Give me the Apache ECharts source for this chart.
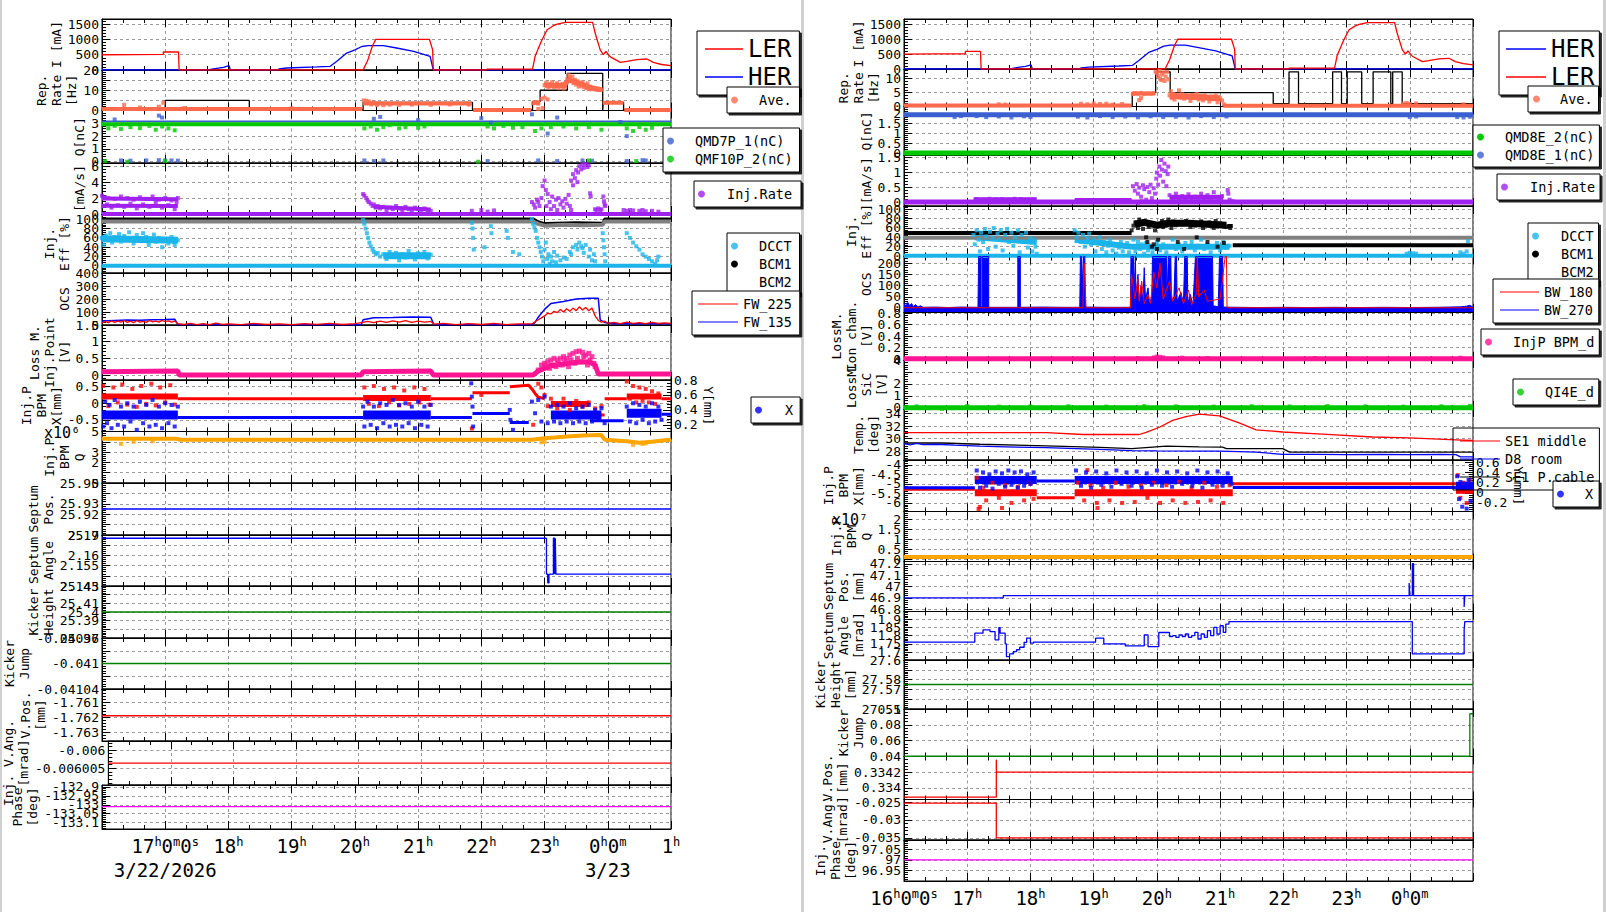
<!DOCTYPE html>
<html><head><meta charset="utf-8"><title>Injection monitor</title>
<script src="https://cdn.jsdelivr.net/npm/echarts@6.0.0/dist/echarts.min.js"></script>
<style>html,body{margin:0;padding:0;background:#fff;}#chart{width:1606px;height:912px;}</style>
</head><body><div id="chart"></div>
<script>
// ================= DATA =================
// time axis (hours since 0:00 of 3/22/2026)
const hourTicks = [16,17,18,19,20,21,22,23,24,25];
const leftHourLabels = ['', '17h0m0s', '18h', '19h', '20h', '21h', '22h', '23h', '0h0m', '1h'];
const leftDateLabels = ['', '3/22/2026', '', '', '', '', '', '', '3/23', ''];
const rightHourLabels = ['16h0m0s', '17h', '18h', '19h', '20h', '21h', '22h', '23h', '0h0m', ''];

// beam currents [mA] (same in both panels)
const lerCurrent = [[16.0,500],[16.5,505],[16.97,510],[16.97,590],[17.21,590],[17.22,0],[20.13,0],[20.2,300],[20.28,800],[20.33,1000],[21.18,1000],[21.23,660],[21.24,0],[22.08,0],[22.09,30],[22.81,30],[22.85,445],[22.9,700],[22.96,990],[23.04,1320],[23.14,1450],[23.2,1500],[23.33,1560],[23.76,1560],[23.8,1210],[23.88,660],[23.93,500],[23.97,610],[24.04,430],[24.2,250],[24.3,280],[24.46,340],[24.62,360],[24.72,250],[24.85,180],[25.0,140]];
const herCurrent = [[16.0,0],[17.68,0],[17.76,40],[17.92,85],[18.01,140],[18.03,0],[18.79,0],[18.8,40],[18.92,65],[19.4,100],[19.61,120],[19.71,280],[19.87,555],[20.0,660],[20.11,770],[20.21,800],[20.45,800],[20.66,720],[20.93,610],[21.19,445],[21.24,0],[25.0,0]];

// ---- left panel (LER injection) ----
const repRateL = [[16.0,0.5],[17.0,5],[18.33,0.5],[20.13,4],[21.86,0.3],[22.81,4.5],[22.93,10],[23.36,18.3],[23.92,0.3],[23.93,4],[24.25,0.3],[25.0,0.3]];
const aveBandL = [[16.0,0.8],[20.12,0.8],null,[20.13,3.4],[21.85,3.4],null,[21.87,0.2],[22.79,0.2],null,[22.81,3.8],[22.93,3.8],null,[23.92,3.8],[24.25,3.8],null,[24.26,0.2],[25.0,0.2]];
const aveCloudBandL = [[23.0,12.5],[23.3,12.2],[23.38,15.0],[23.55,13.5],[23.7,11.5],[23.9,10.3]];
const aveDotsL = [[16.35,2.8],[16.6,1.5],[16.9,1.9],[16.97,3.8],[17.3,1.2],[19.0,1.1],[20.14,5.0],[20.18,4.8],[20.22,4.5],[20.26,3.0],[20.3,4.0],[20.35,2.7],[20.45,2.6],[20.55,2.9],[20.7,2.8],[20.9,2.9],[21.2,2.8],[21.5,3.0],[21.8,2.9],[22.82,3.6],[22.86,4.2],[22.9,3.4],[22.95,5.8],[23.0,6.3],[23.05,5.5],[22.97,1.2],[22.9,0.8],[23.0,12.5],[23.03,13.8],[23.06,11.2],[23.08,13.0],[23.1,12.2],[23.12,14.0],[23.15,11.5],[23.17,12.8],[23.2,13.5],[23.22,11.0],[23.25,12.4],[23.28,13.2],[23.3,10.8],[23.33,12.0],[23.36,15.5],[23.38,17.5],[23.4,16.2],[23.42,14.8],[23.44,16.8],[23.46,13.5],[23.48,15.2],[23.5,12.8],[23.52,14.5],[23.54,11.8],[23.56,13.2],[23.58,12.2],[23.6,14.0],[23.62,11.5],[23.64,12.6],[23.66,11.0],[23.68,13.4],[23.7,10.5],[23.72,11.8],[23.75,10.5],[23.78,10.8],[23.82,10.2],[23.85,10.4],[23.88,10.2],[23.9,10.3]];

const qmf10BandL = [[16.0,2.92],[25.0,2.92]];
const qmd7BandL = [[16.0,3.15],[25.0,3.15]];
const qmf10DotsL = [[16.1,2.6],[16.2,2.8],[16.3,2.55],[16.45,2.7],[16.6,2.62],[16.75,2.8],[16.85,2.5],[16.95,2.75],[17.05,2.6],[17.15,2.45],[20.15,2.6],[20.25,2.75],[20.35,2.5],[20.45,2.7],[20.55,2.85],[20.7,2.6],[20.8,2.7],[21.0,2.65],[21.1,2.75],[22.1,2.75],[22.2,2.6],[22.35,2.8],[22.5,2.65],[22.65,2.7],[22.85,2.4],[22.95,2.6],[23.1,2.7],[23.3,2.75],[23.5,2.6],[23.7,2.7],[23.9,2.5],[24.3,2.6],[24.4,2.4],[24.5,2.7],[24.6,2.5],[24.7,2.65],[16.05,0.05],[16.4,0.0],[17.0,0.05],[21.95,0.0],[23.7,0.1],[24.45,0.05]];
const qmd7DotsL = [[16.2,3.3],[16.9,3.6],[16.95,3.45],[20.3,3.35],[20.4,3.5],[21.0,3.25],[22.0,3.4],[22.15,3.05],[22.8,3.7],[23.2,3.45],[23.05,2.2],[24.2,3.1],[24.3,2.0],[16.3,0.1],[16.45,0.08],[16.7,0.1],[16.9,0.12],[17.0,0.1],[17.1,0.1],[17.2,0.08],[20.15,0.1],[20.3,0.05],[20.45,0.1],[22.1,0.05],[22.9,0.1],[23.2,0.05],[23.6,0.1],[23.75,0.08],[24.3,0.05],[24.55,0.12],[24.6,0.1]];

const injBandL = [[16.0,0.0],[25.0,0.0]];
const injCloudBandL = [[16.0,1.95],[17.2,1.85],null,[16.0,1.05],[17.2,1.0],null,[20.3,0.9],[21.2,0.55]];
const injDotsL = [[16.0,2.3],[16.02,1.0],[16.05,2.1],[16.08,1.2],[16.1,2.0],[16.15,0.8],[16.2,1.9],[16.25,1.1],[16.3,2.2],[16.35,0.9],[16.4,2.0],[16.45,1.3],[16.5,1.8],[16.55,0.7],[16.6,2.1],[16.65,1.2],[16.7,1.9],[16.75,0.9],[16.8,2.2],[16.85,1.4],[16.9,1.8],[16.95,0.8],[17.0,2.0],[17.05,1.1],[17.1,1.7],[17.15,0.6],[17.18,1.5],[17.2,2.0],[20.13,2.5],[20.15,2.3],[20.18,2.0],[20.2,1.7],[20.22,1.5],[20.25,1.3],[20.28,1.0],[20.3,1.2],[20.33,0.8],[20.36,1.0],[20.4,0.7],[20.45,0.9],[20.5,0.5],[20.55,0.8],[20.6,0.6],[20.65,1.0],[20.7,0.7],[20.75,0.5],[20.8,0.9],[20.85,0.6],[20.9,0.4],[20.95,0.8],[21.0,0.6],[21.05,0.3],[21.1,0.7],[21.15,0.5],[21.2,0.4],[21.85,0.4],[22.0,0.5],[22.1,0.3],[22.2,0.45],[22.8,1.5],[22.83,1.2],[22.85,0.8],[22.88,1.8],[22.9,1.5],[22.92,1.0],[22.95,2.0],[22.97,3.5],[23.0,4.2],[23.02,3.0],[23.03,1.0],[23.05,2.5],[23.08,1.5],[23.1,0.6],[23.12,2.2],[23.15,1.0],[23.18,1.8],[23.2,0.5],[23.22,2.0],[23.25,1.2],[23.28,1.6],[23.3,0.8],[23.33,1.9],[23.35,1.3],[23.38,2.4],[23.4,1.0],[23.42,0.5],[23.42,4.2],[23.45,5.0],[23.48,4.5],[23.5,5.5],[23.53,5.2],[23.55,6.0],[23.58,5.6],[23.6,6.2],[23.62,5.8],[23.65,6.3],[23.68,5.9],[23.7,6.1],[23.45,3.6],[23.52,4.0],[23.72,2.6],[23.73,2.2],[23.8,0.6],[23.82,0.5],[23.85,0.7],[23.88,0.5],[23.9,0.6],[23.93,2.2],[23.94,1.6],[23.95,1.2],[23.96,1.0],[24.25,0.5],[24.3,0.4],[24.35,0.5],[24.4,0.45],[24.5,0.4],[24.55,0.5],[24.6,0.35],[24.7,0.4],[24.8,0.3]];

const bcm1L = [[16.0,101],[22.82,101],[22.9,95],[23.0,91],[23.5,93],[23.92,92],[23.95,101],[25.0,101]];
const bcm2L = [[16.0,95],[22.82,95],[22.9,90],[23.0,86],[23.3,88],[23.6,87],[23.92,88],[23.95,95],[25.0,95]];
const dcctBandL = [[16.0,0.5],[25.0,0.5]];
const dcctCloudBandL = [[16.0,58],[17.2,55],null,[20.45,22],[21.2,22]];
const dcctDotsL = [[16.0,60],[16.03,45],[16.06,65],[16.1,55],[16.13,70],[16.16,50],[16.2,62],[16.23,58],[16.27,68],[16.3,52],[16.35,64],[16.4,57],[16.43,72],[16.47,60],[16.5,48],[16.55,66],[16.6,55],[16.65,70],[16.7,62],[16.74,45],[16.78,58],[16.82,67],[16.86,52],[16.9,60],[16.95,40],[17.0,55],[17.05,48],[17.1,62],[17.15,45],[17.2,55],[20.13,98],[20.15,90],[20.17,80],[20.19,70],[20.21,60],[20.23,50],[20.25,42],[20.28,35],[20.3,30],[20.33,25],[20.36,28],[20.4,20],[20.45,25],[20.5,15],[20.55,30],[20.6,20],[20.65,28],[20.7,12],[20.75,25],[20.8,18],[20.85,32],[20.9,22],[20.95,14],[21.0,27],[21.05,19],[21.1,30],[21.15,16],[21.2,24],[21.85,92],[21.86,80],[21.87,60],[21.88,35],[22.15,85],[22.16,70],[22.4,75],[22.42,60],[22.05,40],[22.5,30],[22.6,25],[22.8,100],[22.82,90],[22.84,82],[22.86,75],[22.88,60],[22.9,50],[22.92,40],[22.94,30],[22.96,20],[22.98,10],[23.0,35],[23.02,50],[23.04,15],[23.06,25],[23.08,5],[23.1,20],[23.12,10],[23.15,30],[23.18,8],[23.2,22],[23.25,12],[23.3,18],[23.35,15],[23.4,30],[23.42,25],[23.45,40],[23.5,45],[23.52,35],[23.55,50],[23.58,42],[23.6,38],[23.62,28],[23.65,45],[23.7,20],[23.72,35],[23.75,12],[23.78,25],[23.8,10],[23.92,70],[23.93,55],[23.94,40],[23.95,25],[23.96,10],[24.3,70],[24.35,60],[24.4,50],[24.45,42],[24.5,35],[24.55,25],[24.6,20],[24.65,15],[24.7,10],[24.75,5],[24.8,20],[24.78,12]];

const fw225L = [[16.0,15],[16.05,28],[16.1,18],[16.15,32],[16.2,20],[16.25,30],[16.3,22],[16.35,35],[16.4,20],[16.45,30],[16.5,18],[16.55,33],[16.6,22],[16.65,28],[16.7,20],[16.75,35],[16.8,24],[16.85,30],[16.9,22],[16.95,36],[17.0,25],[17.05,32],[17.1,22],[17.15,30],[17.2,10],[17.3,4],[17.4,12],[17.5,3],[17.6,10],[17.7,2],[17.8,14],[17.9,4],[18.0,8],[18.2,3],[18.4,12],[18.6,4],[18.8,9],[19.0,3],[19.2,11],[19.4,5],[19.6,12],[19.8,4],[20.0,10],[20.13,20],[20.2,28],[20.3,18],[20.4,30],[20.5,20],[20.6,32],[20.7,22],[20.8,34],[20.9,20],[21.0,30],[21.1,22],[21.2,28],[21.25,6],[21.4,12],[21.6,3],[21.8,10],[22.0,4],[22.2,12],[22.4,3],[22.6,9],[22.8,8],[22.85,25],[22.9,40],[22.95,55],[23.0,70],[23.05,90],[23.1,85],[23.15,105],[23.2,95],[23.25,120],[23.3,100],[23.35,125],[23.4,105],[23.45,130],[23.5,110],[23.55,140],[23.6,115],[23.65,135],[23.7,110],[23.75,130],[23.8,70],[23.85,35],[23.9,22],[23.95,30],[24.0,12],[24.1,20],[24.2,10],[24.3,22],[24.4,12],[24.5,18],[24.6,10],[24.7,20],[24.8,12],[24.9,16],[25.0,12]];
const fw135L = [[16.0,30],[16.2,35],[16.4,38],[16.6,36],[16.8,40],[17.0,42],[17.15,45],[17.2,3],[18.0,2],[20.1,2],[20.13,40],[20.3,55],[20.6,58],[20.9,62],[21.2,60],[21.25,2],[22.8,2],[22.85,20],[22.9,60],[23.0,120],[23.1,165],[23.3,180],[23.5,200],[23.7,205],[23.85,205],[23.88,40],[23.95,20],[24.1,10],[25.0,10]];

const lossBandL = [[16.0,0.1],[17.2,0.12],[17.22,0.0],[20.1,0.0],[20.13,0.1],[21.2,0.12],[21.24,0.0],[22.82,0.0],[22.9,0.12],[23.0,0.2],[23.1,0.28],[23.3,0.33],[23.5,0.38],[23.7,0.4],[23.8,0.3],[23.85,0.03],[25.0,0.03]];
const lossDotsL = [[22.9,0.15],[22.95,0.3],[23.0,0.35],[23.02,0.25],[23.05,0.4],[23.08,0.2],[23.1,0.45],[23.12,0.3],[23.15,0.5],[23.18,0.25],[23.2,0.45],[23.22,0.35],[23.25,0.5],[23.28,0.3],[23.3,0.55],[23.32,0.4],[23.35,0.5],[23.38,0.25],[23.4,0.6],[23.42,0.45],[23.45,0.65],[23.48,0.35],[23.5,0.7],[23.52,0.5],[23.55,0.72],[23.58,0.4],[23.6,0.68],[23.62,0.55],[23.65,0.6],[23.68,0.3],[23.7,0.65],[23.72,0.45],[23.75,0.55],[23.78,0.35],[23.8,0.25]];

const bpmXBaseL = [[17.2,-0.43],[20.13,-0.43],null,[21.2,-0.43],[21.85,-0.43],null,[21.86,-0.31],[22.45,-0.31],null,[22.45,-0.58],[22.75,-0.58],null,[23.72,-0.53],[24.25,-0.53],null,[24.85,-0.33],[25.0,-0.33]];
const bpmXCloudL = [[16.0,-0.35],[17.2,-0.35],null,[20.13,-0.35],[21.2,-0.35],null,[23.1,-0.35],[23.9,-0.35],null,[24.3,-0.3],[24.85,-0.3]];
const bpmXDotsL = [[16.02,-0.7],[16.05,0.05],[16.08,-0.6],[16.12,-0.05],[16.15,-0.75],[16.2,0.1],[16.25,-0.65],[16.3,-0.1],[16.35,-0.7],[16.4,0.0],[16.45,-0.55],[16.5,-0.1],[16.55,-0.8],[16.6,0.05],[16.65,-0.6],[16.7,-0.05],[16.75,-0.7],[16.8,0.1],[16.85,-0.65],[16.9,-0.1],[16.95,-0.75],[17.0,0.0],[17.05,-0.6],[17.1,-0.05],[17.15,-0.7],[17.2,-0.1],[20.13,-0.1],[20.15,-0.7],[20.2,0.05],[20.25,-0.65],[20.3,-0.1],[20.35,-0.75],[20.4,0.0],[20.45,-0.6],[20.5,-0.05],[20.55,-0.7],[20.6,0.1],[20.65,-0.65],[20.7,-0.05],[20.75,-0.7],[20.8,0.0],[20.85,-0.6],[20.9,-0.1],[20.95,-0.75],[21.0,0.05],[21.05,-0.65],[21.1,-0.1],[21.15,-0.7],[21.2,-0.05],[21.84,0.6],[21.85,0.2],[21.86,-0.1],[21.87,-0.7],[22.45,-0.2],[22.46,-0.5],[22.5,-0.8],[22.8,0.05],[22.85,-0.3],[22.9,0.1],[22.95,-0.55],[23.0,0.2],[23.05,-0.6],[23.1,-0.1],[23.15,-0.55],[23.2,-0.05],[23.25,-0.6],[23.3,-0.1],[23.35,-0.55],[23.4,0.0],[23.45,-0.6],[23.5,-0.15],[23.55,-0.55],[23.6,-0.1],[23.65,-0.6],[23.7,-0.05],[23.75,-0.55],[23.8,-0.2],[23.85,-0.5],[23.9,-0.15],[23.95,-0.6],[24.3,-0.1],[24.35,-0.55],[24.4,0.0],[24.45,-0.6],[24.5,-0.05],[24.55,-0.5],[24.6,-0.1],[24.65,-0.6],[24.7,0.0],[24.75,-0.55],[24.8,-0.1],[24.85,-0.5]];
const bpmYBaseL = [[17.2,0.55],[20.13,0.55],null,[21.2,0.55],[21.85,0.55],null,[21.86,0.63],[22.45,0.63],null,[22.45,0.71],[22.75,0.73],[22.8,0.68],[22.85,0.62],[22.9,0.57],[23.0,0.55],null,[23.7,0.33],[23.95,0.33],null,[23.95,0.55],[24.3,0.55],null,[24.85,0.55],[25.0,0.55]];
const bpmYCloudL = [[16.0,0.58],[17.2,0.58],null,[20.13,0.56],[21.2,0.56],null,[23.1,0.48],[23.7,0.48],null,[24.3,0.58],[24.85,0.58]];
const bpmYDotsL = [[16.02,0.72],[16.1,0.45],[16.18,0.7],[16.25,0.5],[16.32,0.74],[16.4,0.47],[16.48,0.68],[16.55,0.44],[16.62,0.72],[16.7,0.48],[16.78,0.75],[16.85,0.46],[16.92,0.7],[17.0,0.5],[17.08,0.73],[17.15,0.47],[20.15,0.7],[20.22,0.48],[20.3,0.72],[20.38,0.45],[20.46,0.68],[20.54,0.5],[20.62,0.7],[20.7,0.46],[20.78,0.66],[20.86,0.48],[20.94,0.7],[21.02,0.5],[21.1,0.68],[21.18,0.47],[22.9,0.75],[22.95,0.7],[23.0,0.6],[23.05,0.45],[23.1,0.55],[23.2,0.42],[23.3,0.55],[23.4,0.4],[23.5,0.52],[23.6,0.44],[23.7,0.5],[23.8,0.42],[23.9,0.45],[22.82,0.2],[21.85,0.15],[22.0,0.6],[24.3,0.78],[24.35,0.55],[24.4,0.72],[24.45,0.5],[24.5,0.7],[24.55,0.52],[24.6,0.68],[24.65,0.5],[24.7,0.65],[24.75,0.48],[24.8,0.62]];

const bpmQBandL = [[16.0,4.3],[17.2,4.3],[17.22,4.2],[22.8,4.2],[23.0,4.35],[23.3,4.5],[23.6,4.6],[23.9,4.65],[23.95,4.2],[24.3,4.05],[24.5,3.9],[24.7,4.0],[24.9,4.15],[25.0,4.2]];
const bpmQDotsL = [[16.3,3.8],[16.5,4.0],[16.8,4.05],[24.4,3.7],[24.55,3.8],[24.6,3.85],[23.0,4.0],[22.95,3.95]];

const septumPosL = [[16.0,25.925],[25.0,25.925]];
const septumAngleL = [[16.0,2.1684],[23.03,2.1508],[23.05,2.1466],[23.07,2.1508],[23.14,2.1684],[23.16,2.1508],[23.17,2.1684],[23.18,2.1508],[25.0,2.1508]];
const kickerHeightL = [[16.0,25.40],[25.0,25.40]];
const kickerJumpL = [[16.0,-0.041],[25.0,-0.041]];
const vPosL = [[16.0,-1.7619],[25.0,-1.7619]];
const vAngL = [[16.0,-0.0060036],[25.0,-0.0060036]];
const phaseL = [[16.0,-133.01],[25.0,-133.01]];

// ---- right panel (HER injection) ----
const repRateR = [[16.0,0],[19.61,5],[19.98,12.5],[20.21,5],[21.84,1],[22.09,12.5],[22.24,1],[22.78,12.5],[22.92,1],[23.01,12.5],[23.24,1],[23.42,12.5],[23.7,1],[23.73,12.5],[23.88,1],[25.0,1]];
const aveBandR = [[16.0,0.35],[19.6,0.35],null,[19.6,4.7],[19.97,4.7],null,[21.05,0.3],[25.0,0.3]];
const aveCloudBandR = [[20.2,3.8],[20.6,3.4],[21.0,3.0]];
const aveDotsR = [[17.5,0.8],[17.6,0.7],[18.8,1.0],[18.9,0.8],[19.0,1.1],[19.1,0.9],[19.2,1.0],[19.3,0.7],[19.45,0.9],[19.62,4.5],[19.65,4.8],[19.7,4.6],[19.75,4.9],[19.8,4.5],[19.85,4.7],[19.9,4.6],[19.95,4.8],[19.72,2.3],[19.75,3.1],[19.98,12.5],[20.0,12.0],[20.02,11.0],[20.04,12.8],[20.05,10.0],[20.07,9.5],[20.08,11.5],[20.1,12.3],[20.12,9.2],[20.14,10.8],[20.16,12.5],[20.18,9.8],[20.2,4.0],[20.22,5.5],[20.24,3.0],[20.26,4.5],[20.28,2.5],[20.3,4.2],[20.32,3.5],[20.35,5.8],[20.38,3.2],[20.4,4.4],[20.43,2.8],[20.46,4.0],[20.5,3.6],[20.53,2.0],[20.56,4.2],[20.6,3.0],[20.63,4.5],[20.66,2.5],[20.7,3.8],[20.73,2.2],[20.76,4.0],[20.8,3.2],[20.83,1.8],[20.86,3.6],[20.9,2.6],[20.93,4.0],[20.96,1.5],[21.0,3.0],[21.03,2.2],[21.06,0.8],[23.9,1.0],[23.95,1.3],[24.0,0.9],[24.1,1.1],[24.85,0.8]];

const qmd8e1BandR = [[16.0,1.92],[25.0,1.92]];
const qmd8e2BandR = [[16.0,0.0],[25.0,0.0]];
const qmd8e1DotsR = [[16.8,1.8],[16.9,1.85],[17.15,1.85],[17.3,1.8],[17.5,1.83],[17.7,1.78],[17.9,1.84],[18.0,1.8],[18.75,1.82],[18.9,1.78],[19.1,1.85],[19.3,1.8],[19.5,1.83],[19.7,1.79],[19.9,1.84],[20.1,1.8],[20.3,1.82],[20.5,1.78],[20.7,1.85],[20.9,1.8],[21.1,1.83],[24.0,1.8],[24.1,1.83],[24.75,1.8],[24.85,1.78],[24.95,1.82]];

const injBandR = [[16.0,0.02],[25.0,0.02]];
const injCloudBandR = [[17.1,0.1],[18.1,0.1],null,[18.7,0.07],[19.6,0.07],null,[20.2,0.18],[21.05,0.18]];
const injDotsR = [[17.15,0.12],[17.25,0.1],[17.35,0.13],[17.45,0.11],[17.55,0.12],[17.65,0.1],[17.75,0.13],[17.85,0.12],[17.95,0.1],[18.05,0.11],[19.62,0.55],[19.65,0.4],[19.68,0.62],[19.7,0.3],[19.72,0.5],[19.75,0.2],[19.78,0.58],[19.8,0.45],[19.83,0.1],[19.85,0.52],[19.88,0.35],[19.9,0.6],[19.92,0.15],[19.95,0.48],[19.97,0.3],[19.7,0.0],[19.76,0.05],[19.99,0.8],[20.0,1.0],[20.02,0.6],[20.04,1.2],[20.05,0.9],[20.07,1.42],[20.08,1.1],[20.1,0.7],[20.12,1.3],[20.14,1.05],[20.15,0.55],[20.17,0.95],[20.18,1.2],[20.2,0.25],[20.25,0.15],[20.3,0.3],[20.35,0.1],[20.4,0.22],[20.45,0.12],[20.5,0.28],[20.55,0.08],[20.6,0.2],[20.65,0.15],[20.7,0.3],[20.75,0.1],[20.8,0.25],[20.85,0.12],[20.9,0.35],[20.95,0.18],[21.0,0.1],[21.03,0.22],[21.12,0.42],[21.13,0.3],[21.15,0.1],[21.2,0.05]];

const bcm1R = [[16.0,49],[19.6,49],null,[21.12,64],[21.2,64],null,[21.2,23],[25.0,23]];
const bcm1CloudBandR = [[19.65,68],[19.8,72],[20.0,66],[20.2,70],[20.5,70],[20.8,68],[21.1,66]];
const bcm1DotsR = [[19.6,55],[19.63,65],[19.66,72],[19.7,60],[19.72,78],[19.75,68],[19.78,58],[19.8,75],[19.83,40],[19.85,30],[19.87,62],[19.9,70],[19.92,20],[19.95,25],[19.97,55],[20.0,15],[20.02,35],[20.05,68],[20.08,75],[20.1,62],[20.12,72],[20.15,65],[20.18,78],[20.2,70],[20.23,60],[20.26,74],[20.3,66],[20.33,30],[20.36,72],[20.4,68],[20.43,15],[20.46,75],[20.5,70],[20.53,62],[20.56,73],[20.6,65],[20.63,40],[20.66,70],[20.7,74],[20.73,60],[20.76,68],[20.8,30],[20.83,72],[20.86,66],[20.9,60],[20.93,75],[20.96,20],[21.0,70],[21.03,65],[21.06,28],[21.1,62],[21.13,64],[21.16,60]];
const bcm2R = [[16.0,39],[25.0,39]];
const dcctBandR = [[16.0,0.5],[25.0,0.5]];
const dcctCloudBandR = [[17.12,40],[18.1,30],null,[18.7,35],[19.6,20],null,[19.6,20],[21.15,20]];
const dcctDotsR = [[17.1,45],[17.12,25],[17.15,55],[17.18,35],[17.2,10],[17.22,50],[17.25,30],[17.28,58],[17.3,42],[17.33,15],[17.36,52],[17.4,38],[17.42,60],[17.45,20],[17.48,48],[17.5,35],[17.53,55],[17.56,12],[17.6,45],[17.63,58],[17.66,30],[17.7,50],[17.73,22],[17.76,40],[17.8,55],[17.83,8],[17.86,45],[17.9,30],[17.93,50],[17.96,18],[18.0,38],[18.03,10],[18.06,35],[18.08,20],[18.1,5],[18.7,55],[18.73,40],[18.76,50],[18.8,30],[18.83,45],[18.86,20],[18.9,38],[18.93,48],[18.96,25],[19.0,35],[19.03,10],[19.06,28],[19.1,40],[19.13,15],[19.16,30],[19.2,8],[19.23,22],[19.26,35],[19.3,12],[19.33,25],[19.36,5],[19.4,18],[19.43,30],[19.46,10],[19.5,20],[19.53,28],[19.56,8],[19.6,20],[19.63,35],[19.66,10],[19.7,30],[19.73,15],[19.76,25],[19.8,5],[19.83,28],[19.86,12],[19.9,22],[19.93,8],[19.96,18],[20.0,30],[20.05,12],[20.1,25],[20.15,8],[20.2,20],[20.25,35],[20.3,15],[20.35,25],[20.4,10],[20.45,28],[20.5,18],[20.55,30],[20.6,12],[20.65,22],[20.7,35],[20.75,15],[20.8,25],[20.85,8],[20.9,20],[20.95,28],[21.0,12],[21.05,30],[21.1,18],[21.15,22],[23.95,5],[24.0,7],[24.05,6],[24.1,5],[24.8,8],[24.85,5],[24.9,10],[24.92,32]];

const bw270R = [[16.0,22],[16.03,8],[16.06,25],[16.09,10],[16.12,20],[16.15,6],[16.18,15],[16.22,4],[16.26,10],[16.3,3],[16.5,4],[16.7,2],[16.9,4],[17.17,3],[17.18,230],[17.22,230],[17.22,6],[17.24,6],[17.24,230],[17.34,230],[17.34,3],[17.6,3],[17.8,3],[17.8,230],[17.84,230],[17.84,3],[18.2,4],[18.5,3],[18.78,3],[18.79,230],[18.81,230],[18.82,100],[18.84,230],[18.86,230],[18.87,4],[19.2,3],[19.58,3],[19.59,230],[19.63,230],[19.64,60],[19.66,230],[19.67,30],[19.7,150],[19.72,20],[19.75,100],[19.78,30],[19.8,180],[19.82,40],[19.86,90],[19.88,20],[19.92,50],[19.93,230],[20.15,230],[20.16,20],[20.18,230],[20.22,230],[20.23,30],[20.27,50],[20.29,230],[20.31,230],[20.32,30],[20.38,70],[20.42,20],[20.44,230],[20.48,230],[20.49,20],[20.53,60],[20.57,10],[20.61,230],[20.88,230],[20.89,10],[20.97,5],[20.99,230],[21.04,230],[21.05,4],[21.3,3],[21.6,2],[22.0,3],[22.4,2],[22.8,3],[23.2,2],[23.6,3],[24.0,2],[24.4,3],[24.8,5],[24.9,8],[24.95,12],[25.0,4]];
const bw180R = [[16.0,1],[18.83,1],[18.84,150],[18.85,200],[18.86,120],[18.88,1],[19.58,1],[19.6,150],[19.62,110],[19.65,40],[19.7,130],[19.72,30],[19.76,120],[19.8,20],[19.86,60],[19.9,20],[19.95,160],[20.0,90],[20.05,200],[20.1,40],[20.2,120],[20.25,30],[20.35,90],[20.42,20],[20.5,80],[20.55,15],[20.62,60],[20.64,230],[20.66,50],[20.75,80],[20.8,30],[21.0,40],[21.08,230],[21.1,230],[21.11,1],[25.0,1]];

const ionBandR = [[16.0,0.005],[25.0,0.005]];
const ionDotsR = [[19.7,0.02],[19.95,0.03],[20.0,0.045],[20.05,0.04],[20.1,0.03],[20.4,0.025],[20.8,0.02],[22.5,0.02],[23.0,0.02],[24.8,0.025]];
const sicBandR = [[16.0,0.0],[25.0,0.0]];
const sicDotsR = [[16.2,0.12],[16.6,-0.08],[17.0,0.14],[17.5,0.1],[18.0,0.12],[18.6,0.13],[19.2,0.1],[19.8,0.14],[20.3,0.12],[20.9,0.1],[21.5,0.13],[22.1,0.11],[22.7,0.14],[23.3,0.12],[23.9,0.1],[24.5,0.13],[24.95,0.16]];

const tempSE1MiddleR = [[16.0,30.95],[18.25,30.95],[18.83,30.65],[19.72,30.65],[19.83,31.0],[20.04,31.8],[20.25,32.9],[20.46,33.5],[20.67,33.9],[20.99,33.6],[21.3,32.5],[21.57,31.4],[21.99,31.05],[22.62,30.7],[23.41,30.25],[23.99,30.1],[24.73,29.8],[25.0,29.7]];
const tempD8RoomR = [[16.0,29.2],[16.1,29.0],[16.2,29.25],[16.3,29.05],[16.5,29.1],[16.8,28.95],[17.2,28.8],[17.6,28.7],[18.0,28.6],[18.25,28.55],[18.6,28.45],[19.1,28.3],[19.6,28.1],[20.0,28.05],[20.67,28.0],[21.0,28.0],[21.57,27.85],[21.99,27.5],[22.5,27.5],[23.0,27.45],[23.5,27.5],[24.0,27.45],[24.5,27.5],[24.73,27.45],[24.8,27.1],[25.0,27.1]];
const tempSE1PcableR = [[16.0,29.3],[16.6,29.3],[17.2,29.1],[18.25,28.85],[19.1,28.6],[19.6,28.4],[19.88,28.6],[20.15,28.8],[20.67,28.7],[21.04,28.65],[21.1,28.4],[21.99,28.4],[22.1,27.85],[25.0,27.85]];

const bpmXBaseR = [[16.0,-5.2],[17.12,-5.2],null,[18.1,-4.85],[18.7,-4.85],null,[21.2,-5.19],[24.73,-5.19]];
const bpmXCloudR = [[17.12,-4.8],[18.1,-4.8],null,[18.7,-4.8],[21.2,-4.8],null,[24.73,-5.1],[25.0,-5.1]];
const bpmXDotsR = [[17.15,-4.3],[17.2,-5.2],[17.25,-4.4],[17.3,-5.1],[17.35,-4.5],[17.4,-5.25],[17.45,-4.35],[17.5,-5.0],[17.55,-4.45],[17.6,-5.15],[17.65,-4.3],[17.7,-5.05],[17.75,-4.4],[17.8,-5.2],[17.85,-4.35],[17.9,-5.1],[17.95,-4.5],[18.0,-5.0],[18.05,-4.4],[18.72,-4.3],[18.8,-5.1],[18.88,-4.4],[18.96,-5.2],[19.04,-4.35],[19.12,-5.05],[19.2,-4.45],[19.28,-5.15],[19.36,-4.3],[19.44,-5.0],[19.52,-4.4],[19.6,-5.1],[19.68,-4.35],[19.76,-5.2],[19.84,-4.45],[19.92,-5.05],[20.0,-4.3],[20.08,-5.1],[20.16,-4.4],[20.24,-5.15],[20.32,-4.35],[20.4,-5.0],[20.48,-4.45],[20.56,-5.1],[20.64,-4.3],[20.72,-5.2],[20.8,-4.4],[20.88,-5.05],[20.96,-4.35],[21.04,-5.1],[21.12,-4.45],[21.18,-5.0],[24.75,-4.6],[24.78,-5.8],[24.8,-4.9],[24.83,-6.2],[24.86,-5.0],[24.9,-6.3],[24.93,-4.8],[24.96,-5.9],[24.98,-5.2]];
const bpmYBaseR = [[16.0,0.07],[17.12,0.07],null,[18.1,-0.1],[18.7,-0.1],null,[21.2,0.18],[24.73,0.18]];
const bpmYCloudR = [[17.12,0.0],[18.1,0.0],null,[18.7,0.0],[21.2,0.0],null,[24.73,0.05],[25.0,0.05]];
const bpmYDotsR = [[17.15,0.3],[17.18,-0.32],[17.2,-0.28],[17.25,0.1],[17.3,-0.15],[17.4,0.2],[17.5,-0.1],[17.6,0.15],[17.7,-0.2],[17.8,0.12],[17.9,-0.15],[18.0,0.18],[18.05,-0.12],[17.55,-0.3],[18.75,0.2],[18.85,-0.15],[18.95,0.15],[19.05,-0.2],[19.15,0.1],[19.25,-0.15],[19.35,0.2],[19.45,-0.2],[19.55,0.12],[19.65,-0.18],[19.75,0.15],[19.85,-0.1],[19.95,0.2],[20.05,-0.2],[20.15,0.15],[20.25,-0.15],[20.35,0.22],[20.45,-0.2],[20.55,0.1],[20.65,-0.18],[20.75,0.2],[20.85,-0.15],[20.95,0.12],[21.05,-0.2],[21.15,0.15],[19.06,-0.3],[18.9,0.45],[24.76,0.35],[24.8,-0.1],[24.85,0.2],[24.9,-0.2],[24.95,0.25]];

const bpmQBandR = [[16.0,0.12],[25.0,0.12]];
const septumPosR = [[16.0,46.9],[17.57,46.9],[17.57,46.92],[23.99,46.92],[23.99,47.03],[24.0,47.03],[24.0,46.92],[24.04,46.92],[24.04,47.2],[24.06,47.2],[24.06,46.92],[24.86,46.92],[24.86,46.82],[24.87,46.82],[24.87,46.92],[25.0,46.92]];
const septumAngleR = [[16.0,1.761],[17.12,1.815],[17.25,1.835],[17.36,1.825],[17.44,1.775],[17.5,1.849],[17.52,1.815],[17.6,1.75],[17.62,1.673],[17.67,1.69],[17.73,1.704],[17.78,1.715],[17.83,1.73],[17.9,1.76],[17.94,1.785],[18.0,1.755],[18.05,1.761],[19.03,1.785],[19.16,1.75],[19.5,1.738],[19.8,1.805],[19.86,1.734],[20.03,1.819],[20.2,1.795],[20.25,1.8],[20.3,1.79],[20.35,1.805],[20.4,1.795],[20.45,1.81],[20.5,1.79],[20.55,1.8],[20.6,1.82],[20.65,1.78],[20.7,1.81],[20.75,1.79],[20.8,1.83],[20.85,1.8],[20.9,1.85],[20.95,1.81],[21.0,1.86],[21.05,1.82],[21.09,1.87],[21.14,1.885],[24.04,1.69],[24.86,1.835],[24.87,1.885],[25.0,1.885]];
const kickerHeightR = [[16.0,27.575],[25.0,27.575]];
const kickerJumpR = [[16.0,0.0403],[24.95,0.0403],[24.95,0.094],[25.0,0.094]];
const vPosR = [[16.0,0.33388],[17.46,0.33388],[17.46,0.33436],[17.462,0.3342],[25.0,0.3342]];
const vAngR = [[16.0,-0.0253],[17.46,-0.0253],[17.46,-0.035],[25.0,-0.035]];
const phaseR = [[16.0,97.0],[25.0,97.0]];

// ================= BUILD =================
const FONT = '"DejaVu Sans Mono", monospace';
const BLK = '#000';
const W = 569;
const opt = {animation:false, backgroundColor:'#ffffff', grid:[], xAxis:[], yAxis:[], series:[], legend:[], graphic:[]};

function fix(d){ return d.map(p => p ? p : ['-','-']); }
function num(v){ return String(parseFloat(Number(v).toFixed(9))); }
function richLabel(h, d){
  let s = h.replace(/(\d+)([hms])/g, '{n|$1}{s|$2}');
  if (d) s += '\n{d|' + d + '}';
  return s;
}
function xAxisOf(gi, pos, hours, dates){
  const ax = {gridIndex:gi, type:'value', position:pos, min:16, max:25, interval:1,
    axisLine:{show:true, onZero:false, lineStyle:{color:BLK, width:1}},
    axisTick:{show:true, inside:true, length:8, lineStyle:{color:BLK}},
    minorTick:{show:true, splitNumber:3, length:4, lineStyle:{color:BLK}},
    splitLine:{show:pos==='bottom', lineStyle:{color:'#9a9a9a', type:[3,3], width:1}},
    axisLabel:{show:false}};
  if (hours){
    ax.axisLabel = {show:true, interval:0, margin:7, showMinLabel:true, showMaxLabel:true,
      formatter: v => { const i = hourTicks.indexOf(Math.round(v)); return (i < 0 || !hours[i]) ? '' : richLabel(hours[i], dates ? dates[i] : ''); },
      rich:{ n:{fontFamily:FONT, fontSize:19, color:BLK},
             s:{fontFamily:FONT, fontSize:12, color:BLK, verticalAlign:'top'},
             d:{fontFamily:FONT, fontSize:19, color:BLK, padding:[5,0,0,0]} } };
  }
  return ax;
}
function yAxisOf(gi, pos, c){
  const a = {gridIndex:gi, type:'value', position:pos, min:c.min, max:c.max, scale:true,
    axisLine:{show:true, onZero:false, lineStyle:{color:BLK}},
    axisTick:{show:true, inside:true, length:8, lineStyle:{color:BLK}},
    minorTick:{show:true, splitNumber:5, length:4, lineStyle:{color:BLK}},
    splitLine:{show:pos==='left', lineStyle:{color:'#9a9a9a', type:[3,3], width:1}},
    axisLabel:{color:BLK, fontFamily:FONT, fontSize:13, margin:3, showMinLabel:!c.hideMin, showMaxLabel:!c.hideMax, formatter:num},
    name:c.name, nameLocation:'middle', nameRotate: pos==='left' ? 90 : -90, nameGap:c.gap,
    nameTextStyle:{color:BLK, fontFamily:FONT, fontSize:13, lineHeight:15}};
  if (c.interval != null) a.interval = c.interval; else a.splitNumber = c.split;
  return a;
}
function plot(left, top, bottom, yc, y2c, hours, dates){
  const gi = opt.grid.length;
  opt.grid.push({left:left, top:top, width:W, height:bottom-top, show:true, borderColor:BLK, borderWidth:1, backgroundColor:'rgba(0,0,0,0)'});
  const xi = opt.xAxis.length;
  opt.xAxis.push(xAxisOf(gi, 'bottom', hours, dates));
  opt.xAxis.push(xAxisOf(gi, 'top'));
  const yi = opt.yAxis.length;
  opt.yAxis.push(yAxisOf(gi, 'left', yc));
  let yi2 = yi;
  if (y2c){ yi2 = opt.yAxis.length; opt.yAxis.push(yAxisOf(gi, 'right', y2c)); }
  return {xi:xi, yi:yi, yi2:yi2};
}
function line(ax, data, color, width, o){
  o = o || {};
  const s = {type:'line', xAxisIndex:ax.xi, yAxisIndex:o.right ? ax.yi2 : ax.yi, data:fix(data),
    symbol:'none', showSymbol:false, connectNulls:false, silent:true, clip:true,
    lineStyle:{color:color, width:width}, itemStyle:{color:color}, emphasis:{disabled:true}, z:2};
  if (o.name) s.name = o.name;
  if (o.step) s.step = o.step;
  if (o.area) s.areaStyle = {color:color, opacity:1, origin:'start'};
  opt.series.push(s);
}
function dots(ax, data, color, size, o){
  o = o || {};
  const s = {type:'scatter', xAxisIndex:ax.xi, yAxisIndex:o.right ? ax.yi2 : ax.yi, data:data,
    symbol:'rect', symbolSize:size || 4, silent:true, clip:true, itemStyle:{color:color}, emphasis:{disabled:true}, z:3};
  if (o.name) s.name = o.name;
  opt.series.push(s);
}
const RED='#ff0000', BLUE='#0000ff', SALMON='#ff6a4d', QBLUE='#3c5fd0', QGREEN='#00c800', PURPLE='#a020f0',
      CYAN='#1ab4ea', GRAY='#808080', PINK='#ff1493', ORANGE='#ffa500', DGREEN='#008000', MAG='#ff00ff';

// ---------- LEFT PANEL ----------
const LX = 102;
let a;
a = plot(LX, 19, 70, {min:0, max:1670, interval:500, hideMax:true, name:'I [mA]', gap:36});
line(a, herCurrent, BLUE, 1.3, {name:'HER'});
line(a, lerCurrent, RED, 1.3, {name:'LER'});

a = plot(LX, 70, 110.5, {min:0, max:20, interval:5, name:'Rep.\nRate\n[Hz]', gap:19});
line(a, repRateL, BLK, 1.3, {step:'end'});
line(a, aveBandL, SALMON, 4);
line(a, aveCloudBandL, SALMON, 5);
dots(a, aveDotsL, SALMON, 4, {name:'Ave.'});

a = plot(LX, 110.5, 163, {min:-0.1, max:4.0, split:4, hideMin:true, hideMax:true, name:'Q[nC]', gap:12});
line(a, qmd7BandL, QBLUE, 2);
line(a, qmf10BandL, QGREEN, 4);
dots(a, qmd7DotsL, QBLUE, 4, {name:'QMD7P_1(nC)'});
dots(a, qmf10DotsL, QGREEN, 4, {name:'QMF10P_2(nC)'});

a = plot(LX, 163, 214, {min:0, max:6.4, interval:2, hideMax:true, name:'[mA/s]', gap:12});
line(a, injBandL, PURPLE, 4);
line(a, injCloudBandL, PURPLE, 4);
dots(a, injDotsL, PURPLE, 4, {name:'Inj.Rate'});

a = plot(LX, 214, 273, {min:-15, max:111, split:6, hideMin:true, hideMax:true, name:'Inj.\nEff [%]', gap:30});
line(a, dcctBandL, CYAN, 4);
line(a, dcctCloudBandL, CYAN, 7);
dots(a, dcctDotsL, CYAN, 4, {name:'DCCT'});
line(a, bcm1L, BLK, 2.5, {name:'BCM1'});
line(a, bcm2L, GRAY, 4, {name:'BCM2'});

a = plot(LX, 273, 325, {min:0, max:400, interval:100, name:'OCS', gap:25});
line(a, fw135L, BLUE, 1.5, {name:'FW_135'});
line(a, fw225L, RED, 1.3, {name:'FW_225'});

a = plot(LX, 325, 380, {min:-0.15, max:1.5, split:3, hideMin:true, name:'Loss M.\nInj.Point\n[V]', gap:29});
line(a, lossBandL, PINK, 5);
dots(a, lossDotsL, PINK, 5);

a = plot(LX, 380, 431.5, {min:-0.85, max:0.7, split:3, hideMin:true, hideMax:true, name:'Inj.P\nBPM\nX[mm]', gap:37},
         {min:0.11, max:0.8, split:3, hideMin:true, name:'Y[mm]', gap:27});
line(a, bpmYBaseL, RED, 3, {right:true});
line(a, bpmYCloudL, RED, 6, {right:true});
dots(a, bpmYDotsL, RED, 4, {right:true});
line(a, bpmXBaseL, BLUE, 3);
line(a, bpmXCloudL, BLUE, 9);
dots(a, bpmXDotsL, BLUE, 4, {name:'X'});

a = plot(LX, 431.5, 483, {min:0, max:5, interval:1, name:'Inj.P\nBPM\nQ', gap:14});
line(a, bpmQBandL, ORANGE, 4);
dots(a, bpmQDotsL, ORANGE, 4);

a = plot(LX, 483, 535, {min:25.9, max:25.95, interval:0.01, name:'Septum\nPos.', gap:45});
line(a, septumPosL, BLUE, 1.3);

a = plot(LX, 535, 586, {min:2.145, max:2.17, interval:0.005, name:'Septum\nAngle', gap:44});
line(a, septumAngleL, BLUE, 1.3, {step:'end'});

a = plot(LX, 586, 638, {min:25.37, max:25.43, interval:0.01, name:'Kicker\nHeight', gap:45});
line(a, kickerHeightL, DGREEN, 1.3);

a = plot(LX, 638, 689, {min:-0.04104, max:-0.04096, interval:0.00002, name:'Kicker\nJump', gap:69});
line(a, kickerJumpL, DGREEN, 1.3);

a = plot(LX, 689, 741, {min:-1.7636, max:-1.7601, split:3, hideMin:true, hideMax:true, name:'V.Pos.\n[mm]', gap:52});
line(a, vPosL, RED, 1.3);

a = plot(LX, 741, 785, {min:-0.0060096, max:-0.0059975, split:2, hideMin:true, hideMax:true, name:'Inj. V.Ang.\n[mrad]', gap:75});
line(a, vAngL, RED, 1.3);

a = plot(LX, 785, 829, {min:-133.135, max:-132.89, split:5, hideMin:true, hideMax:true, name:'Phase\n[deg]', gap:60}, null, leftHourLabels, leftDateLabels);
line(a, phaseL, MAG, 1.3);

// ---------- RIGHT PANEL ----------
const RX = 904;
a = plot(RX, 19, 69, {min:0, max:1680, interval:500, hideMax:true, name:'I [mA]', gap:36});
line(a, herCurrent, BLUE, 1.3, {name:'HER'});
line(a, lerCurrent, RED, 1.3, {name:'LER'});

a = plot(RX, 69, 106.5, {min:0, max:13.5, interval:5, hideMax:true, name:'Rep.\nRate\n[Hz]', gap:19});
line(a, repRateR, BLK, 1.3, {step:'end'});
line(a, aveBandR, SALMON, 4);
line(a, aveCloudBandR, SALMON, 6);
dots(a, aveDotsR, SALMON, 4, {name:'Ave.'});

a = plot(RX, 106.5, 155.5, {min:-0.12, max:2.33, split:5, hideMin:true, hideMax:true, name:'Q[nC]', gap:19});
line(a, qmd8e1BandR, QBLUE, 5);
dots(a, qmd8e1DotsR, QBLUE, 4, {name:'QMD8E_1(nC)'});
line(a, qmd8e2BandR, QGREEN, 5, {name:'QMD8E_2(nC)'});

a = plot(RX, 155.5, 206, {min:-0.11, max:1.57, split:3, hideMin:true, hideMax:true, name:'[mA/s]', gap:29});
line(a, injBandR, PURPLE, 5);
line(a, injCloudBandR, PURPLE, 5);
dots(a, injDotsR, PURPLE, 4, {name:'Inj.Rate'});

a = plot(RX, 206, 256.5, {min:-1, max:107, split:5, hideMin:true, hideMax:true, name:'Inj.\nEff [%]', gap:29});
line(a, dcctBandR, CYAN, 4);
line(a, dcctCloudBandR, CYAN, 6);
dots(a, dcctDotsR, CYAN, 4, {name:'DCCT'});
line(a, bcm1R, BLK, 4, {name:'BCM1'});
line(a, bcm1CloudBandR, BLK, 7);
dots(a, bcm1DotsR, BLK, 4);
line(a, bcm2R, GRAY, 4, {name:'BCM2'});

a = plot(RX, 256.5, 312, {min:-18, max:230, split:5, hideMin:true, hideMax:true, name:'OCS', gap:26});
line(a, bw270R, BLUE, 1, {name:'BW_270', area:true});
line(a, bw180R, RED, 1, {name:'BW_180'});

a = plot(RX, 312, 360, {min:-0.015, max:0.82, split:4, hideMin:true, hideMax:true, name:'LossM.\nIon cham.\n[V]', gap:29});
line(a, ionBandR, PINK, 5);
dots(a, ionDotsR, PINK, 4, {name:'InjP BPM_d'});

a = plot(RX, 360, 409, {min:-0.1, max:4, split:4, hideMin:true, name:'LossM.\nSiC\n[V]', gap:14});
line(a, sicBandR, QGREEN, 5);
dots(a, sicDotsR, QGREEN, 4, {name:'QI4E_d'});

a = plot(RX, 409, 460, {min:26.6, max:34.7, split:4, hideMin:true, hideMax:true, name:'Temp.\n[deg]', gap:21});
line(a, tempSE1PcableR, BLK, 1.3, {name:'SE1 P.cable'});
line(a, tempD8RoomR, BLUE, 1.3, {name:'D8 room'});
line(a, tempSE1MiddleR, RED, 1.3, {name:'SE1 middle'});

a = plot(RX, 460, 511.5, {min:-6.45, max:-3.75, split:5, hideMin:true, hideMax:true, name:'Inj.P\nBPM\nX[mm]', gap:36},
         {min:-0.37, max:0.65, split:5, hideMin:true, hideMax:true, name:'Y[mm]', gap:35});
line(a, bpmYBaseR, RED, 3, {right:true});
line(a, bpmYCloudR, RED, 7, {right:true});
dots(a, bpmYDotsR, RED, 4, {right:true});
line(a, bpmXBaseR, BLUE, 3);
line(a, bpmXCloudR, BLUE, 8);
dots(a, bpmXDotsR, BLUE, 4, {name:'X'});

a = plot(RX, 511.5, 561.5, {min:-0.1, max:2.4, split:5, hideMin:true, hideMax:true, name:'Inj.P\nBPM\nQ', gap:29});
line(a, bpmQBandR, ORANGE, 4);

a = plot(RX, 561.5, 611.5, {min:46.78, max:47.22, split:4, hideMin:true, hideMax:true, name:'Septum\nPos.\n[mm]', gap:36});
line(a, septumPosR, BLUE, 1.3);

a = plot(RX, 611.5, 660, {min:1.653, max:1.946, split:6, hideMin:true, hideMax:true, name:'Septum\nAngle\n[mrad]', gap:36});
line(a, septumAngleR, BLUE, 1.3, {step:'end'});

a = plot(RX, 660, 709, {min:27.55, max:27.6, interval:0.01, name:'Kicker\nHeight\n[mm]', gap:44});
line(a, kickerHeightR, DGREEN, 1.3);

a = plot(RX, 709, 756.5, {min:0.04, max:0.1, interval:0.02, name:'Kicker\nJump', gap:36});
line(a, kickerJumpR, DGREEN, 1.3);

a = plot(RX, 756.5, 799.5, {min:0.33385, max:0.3344, split:3, hideMin:true, hideMax:true, name:'V.Pos.\n[mm]', gap:47});
line(a, vPosR, RED, 1.3);

a = plot(RX, 799.5, 840, {min:-0.0356, max:-0.0243, split:2, hideMin:true, hideMax:true, name:'V.Ang.\n[mrad]', gap:47});
line(a, vAngR, RED, 1.3);

a = plot(RX, 840, 881, {min:96.9, max:97.095, split:4, hideMin:true, hideMax:true, name:'Inj.\nPhase\n[deg]', gap:42}, null, rightHourLabels, null);
line(a, phaseR, MAG, 1.3);

// ---------- LEGENDS ----------
function legendBox(left, top, items, o){
  opt.legend.push({orient:'vertical', left:left, top:top, selectedMode:false, data:items,
    padding:o.pad, itemGap:o.gap != null ? o.gap : 4, itemWidth:o.iw, itemHeight:o.ih,
    borderColor:BLK, borderWidth:1, borderRadius:0,
    backgroundColor: o.noFill ? 'rgba(0,0,0,0)' : '#ffffff',
    shadowColor: o.noShadow ? 'rgba(0,0,0,0)' : 'rgba(0,0,0,0.85)', shadowBlur: o.noShadow ? 0 : 1,
    shadowOffsetX: o.noShadow ? 0 : 2, shadowOffsetY: o.noShadow ? 0 : 2,
    textStyle:{fontFamily:FONT, fontSize:o.fs || 13.5, color:BLK, lineHeight:o.lh || 14, padding:[0,0,0,o.tp || 0]},
    inactiveColor:BLK, z:8});
}
const dot = n => ({name:n, icon:'circle'});
const hid = n => ({name:n, icon:'circle', itemStyle:{opacity:0}});
const ln = n => ({name:n, icon:'rect'});
// left
legendBox(697, 31, [ln('LER'), ln('HER')], {pad:[5,8,5,8], iw:38, ih:1.5, fs:24, lh:26, gap:2});
legendBox(727, 87, [dot('Ave.')], {pad:[6,8,6,4], iw:7, ih:7, tp:16});
legendBox(663, 128, [dot('QMD7P_1(nC)'), dot('QMF10P_2(nC)')], {pad:[6,7,6,4], iw:7, ih:7, tp:16});
legendBox(694, 181, [dot('Inj.Rate')], {pad:[6,9,6,4], iw:7, ih:7, tp:17});
legendBox(727, 233, [dot('DCCT'), dot('BCM1'), hid('BCM2')], {pad:[6,8,6,4], iw:7, ih:7, tp:16});
legendBox(692, 291, [ln('FW_225'), ln('FW_135')], {pad:[6,8,6,6], iw:40, ih:1.2});
legendBox(751, 397, [dot('X')], {pad:[6,7,6,4], iw:7, ih:7, tp:18});
// right
legendBox(1499, 31, [ln('HER'), ln('LER')], {pad:[5,5,5,7], iw:40, ih:1.5, fs:24, lh:26, gap:2});
legendBox(1528, 86, [dot('Ave.')], {pad:[6,6,6,5], iw:7, ih:7, tp:15});
legendBox(1473, 125, [dot('QMD8E_2(nC)'), dot('QMD8E_1(nC)')], {pad:[5,5,5,4], iw:7, ih:7, tp:16});
legendBox(1497, 174, [dot('Inj.Rate')], {pad:[6,5,6,4], iw:7, ih:7, tp:17});
legendBox(1528, 223, [dot('DCCT'), dot('BCM1'), hid('BCM2')], {pad:[6,5,6,4], iw:7, ih:7, tp:17});
legendBox(1493, 279, [ln('BW_180'), ln('BW_270')], {pad:[6,6,6,7], iw:39, ih:1.2});
legendBox(1481, 329, [dot('InjP BPM_d')], {pad:[6,5,6,4], iw:7, ih:7, tp:16});
legendBox(1513, 379, [dot('QI4E_d')], {pad:[6,5,6,4], iw:7, ih:7, tp:16});
legendBox(1453, 428, [ln('SE1 middle'), ln('D8 room'), ln('SE1 P.cable')], {pad:[6,5,6,7], iw:40, ih:1.2, noFill:true, noShadow:true});
legendBox(1553, 481, [dot('X')], {pad:[6,6,6,4], iw:7, ih:7, tp:16});

// ---------- frame & extra text ----------
opt.graphic = [
  {type:'rect', left:0, top:0, shape:{width:2, height:912}, style:{fill:'#d0d0d0'}, silent:true},
  {type:'rect', left:801, top:0, shape:{width:3, height:912}, style:{fill:'#d0d0d0'}, silent:true},
  {type:'rect', left:1603, top:0, shape:{width:3, height:912}, style:{fill:'#d0d0d0'}, silent:true},
  {type:'text', left:44, top:425, silent:true, style:{text:'x10\u2076', fill:BLK, font:'15px "DejaVu Sans Mono"'}},
  {type:'text', left:832, top:512, silent:true, style:{text:'x10\u2077', fill:BLK, font:'15px "DejaVu Sans Mono"'}}
];

const chart = echarts.init(document.getElementById('chart'), null, {renderer:'svg', width:1606, height:912});
chart.setOption(opt);
</script>
</body></html>
